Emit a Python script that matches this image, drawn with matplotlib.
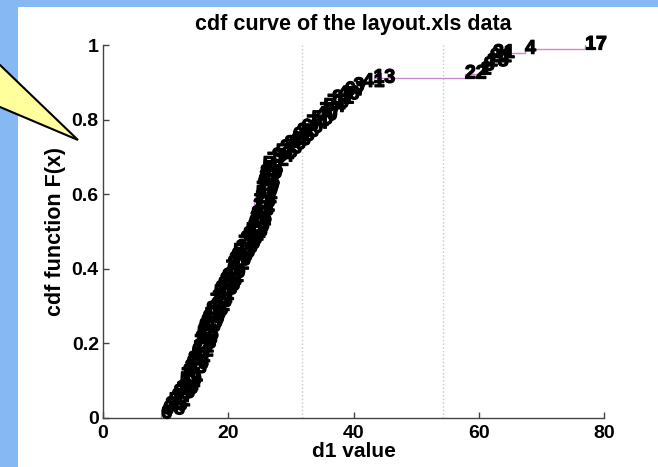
import matplotlib
matplotlib.use('Agg')
import matplotlib.pyplot as plt
from matplotlib.patches import Polygon, Rectangle
import matplotlib.patheffects as pe
import numpy as np

plt.rcParams['font.family'] = ['Liberation Sans', 'DejaVu Sans']
plt.rcParams['font.weight'] = 'bold'

# sorted d1 values from layout.xls, with the row number of each sample
d1_sorted = [9.3, 9.6, 10.0, 10.5, 11.0, 11.3, 11.7, 12.0, 12.3, 12.5,
             12.8, 13.1, 13.4, 13.6, 13.9, 14.2, 14.4, 14.6, 14.8, 15.0,
             15.2, 15.4, 15.7, 15.9, 16.2, 16.5, 16.8, 17.1, 17.4, 17.7,
             18.0, 18.4, 18.7, 19.0, 19.3, 19.6, 19.9, 20.2, 20.5, 20.8,
             21.2, 21.6, 22.0, 22.4, 22.8, 23.1, 23.3, 23.5, 23.7, 23.8,
             24.0, 24.1, 24.3, 24.4, 24.5, 24.7, 24.8, 25.0, 25.1, 25.3,
             25.5, 26.2, 27.0, 27.6, 28.3, 29.0, 29.7, 30.3, 31.0, 31.7,
             32.5, 33.3, 34.0, 34.6, 35.2, 35.8, 36.6, 37.5, 38.6, 40.0,
             41.5, 43.2, 57.8, 60.3, 60.8, 61.3, 61.8, 62.3, 67.4, 77.0]
row_ids = [6, 68, 35, 52, 27, 80, 15, 44, 59, 71,
           9, 33, 86, 24, 47, 62, 11, 78, 38, 55,
           2, 90, 29, 66, 19, 83, 42, 73, 14, 57,
           36, 88, 25, 61, 49, 7, 82, 30, 69, 53,
           16, 75, 39, 84, 58, 10, 64, 26, 87, 45,
           32, 70, 12, 51, 79, 20, 63, 37, 85, 48,
           5, 72, 34, 56, 23, 89, 43, 65, 28, 60,
           74, 50, 40, 77, 54, 76, 81, 46, 67, 3,
           41, 13, 22, 1, 8, 18, 21, 31, 4, 17]
ref_lines = [31.7, 54.3]

xticks = [0, 20, 40, 60, 80]
yticks = [0, 0.2, 0.4, 0.6, 0.8, 1]

n = len(d1_sorted)
F = np.arange(1, n + 1) / n

W, H = 658, 467
fig = plt.figure(figsize=(W / 100, H / 100), dpi=100, facecolor='#86B9F4')

# white slide panel behind the plot
fig.patches.append(Rectangle((18 / W, 0), (W - 18) / W, (H - 7) / H,
                             transform=fig.transFigure, facecolor='white',
                             edgecolor='none', zorder=-5))
# yellow callout pointer coming in from the left
callout = [(-0.2, 1 - 40 / H), (0, 1 - 65 / H), (78 / W, 1 - 140 / H),
           (0, 1 - 107 / H), (-0.2, 1 - 130 / H)]
fig.patches.append(Polygon(callout, closed=True, transform=fig.transFigure,
                           facecolor='#FFFF9E', edgecolor='black', lw=1.5,
                           zorder=5, clip_on=False))

ax = fig.add_axes([103 / W, 49 / H, 501 / W, 373 / H])
ax.set_facecolor('white')

# empirical cdf as a staircase
xs = [d1_sorted[0]] + d1_sorted
ys = [0] + list(F)
ax.step(xs, ys, where='post', color='#C98BD0', lw=1.0, zorder=2)

for xv in ref_lines:
    ax.axvline(xv, color='#C8C8C8', ls=':', lw=1.0, zorder=1)

heavy = [pe.withStroke(linewidth=0.9, foreground='black')]
for xv, fv, rid in zip(d1_sorted, F, row_ids):
    ax.text(xv, fv, str(rid), fontsize=14, fontweight='bold',
            ha='left', va='center', zorder=3, path_effects=heavy)

ax.set_xlim(0, 80)
ax.set_ylim(0, 1)
ax.set_xticks(xticks)
ax.set_xticklabels([str(t) for t in xticks])
ax.set_yticks(yticks)
ax.set_yticklabels(['0', '0.2', '0.4', '0.6', '0.8', '1'])
ax.tick_params(direction='in', length=4, width=1, color='#444444',
               labelsize=14)
ax.tick_params(axis='x', pad=5)
ax.tick_params(axis='y', pad=3)
for s in ['top', 'right']:
    ax.spines[s].set_visible(False)
for s in ['left', 'bottom']:
    ax.spines[s].set_color('#444444')
    ax.spines[s].set_linewidth(1)

ax.set_title('cdf curve of the layout.xls data', fontsize=15.5,
             fontweight='bold', pad=11)
ax.set_xlabel('d1 value', fontsize=15, fontweight='bold', labelpad=0)
ax.set_ylabel('cdf function F(x)', fontsize=15.5, fontweight='bold',
              labelpad=4)

fig.savefig('out.png', dpi=100, facecolor=fig.get_facecolor())
